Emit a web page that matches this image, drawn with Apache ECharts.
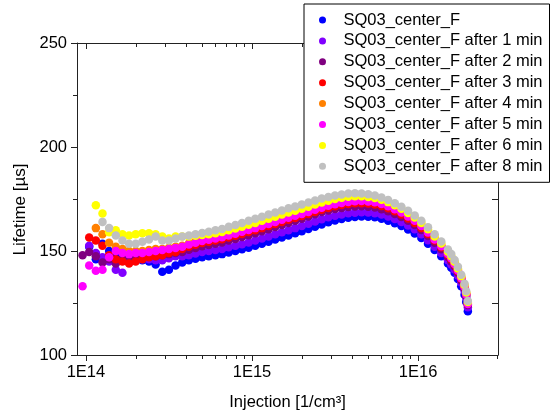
<!DOCTYPE html>
<html><head><meta charset="utf-8">
<script src="https://cdn.jsdelivr.net/npm/echarts@6/dist/echarts.min.js"></script>
<style>html,body{margin:0;padding:0;background:#fff}#c{width:551px;height:416px}</style>
</head><body><div id="c"></div>
<script>
// Injection level [1/cm^3] (shared x grid)
const injection = [9.55e13, 1.047e14, 1.148e14, 1.259e14, 1.380e14, 1.514e14, 1.660e14, 1.820e14, 1.995e14, 2.188e14, 2.399e14, 2.630e14, 2.884e14, 3.162e14, 3.467e14, 3.802e14,
  4.169e14, 4.571e14, 5.012e14, 5.495e14, 6.026e14, 6.607e14, 7.244e14, 7.943e14, 8.710e14, 9.550e14,
  1.047e15, 1.148e15, 1.259e15, 1.380e15, 1.514e15, 1.660e15, 1.820e15, 1.995e15, 2.188e15, 2.399e15,
  2.630e15, 2.884e15, 3.162e15, 3.467e15, 3.802e15, 4.169e15, 4.571e15, 5.012e15, 5.495e15, 6.026e15,
  6.607e15, 7.244e15, 7.943e15, 8.710e15, 9.550e15, 1.047e16, 1.148e16, 1.259e16, 1.380e16, 1.514e16,
  1.585e16, 1.660e16, 1.738e16, 1.820e16, 1.905e16, 1.950e16, 1.995e16];

const seriesNames = ['SQ03_center_F', 'SQ03_center_F after 1 min', 'SQ03_center_F after 2 min', 'SQ03_center_F after 3 min',
  'SQ03_center_F after 4 min', 'SQ03_center_F after 5 min', 'SQ03_center_F after 6 min', 'SQ03_center_F after 8 min'];

// Lifetime [µs]
const life0 = [null, 152, 146, 153.5, 150, 147, 146.5, 146, 146.5, 145.5, 145, 143.5, 140, 141, 143, 144.5,
  145.5, 146.3, 147, 147.5, 148, 148.5, 149.3, 150, 150.8, 151.6,
  152.5, 153.5, 154.5, 155.5, 156.5, 157.5, 158.5, 159.5, 160.6, 161.7,
  162.8, 163.8, 164.7, 165.4, 166, 166.4, 166.6, 166.5, 166.2, 165.5,
  164.6, 163.4, 162, 160.3, 158.4, 156.2, 153.5, 150.5, 147.5, 144,
  142, 139.5, 136.5, 133, 129, 125.5, 121];
const life1 = [null, 152.5, 149, 147, 145, 141, 139.5, 145, 146.5, 146, 146, 145.5, 145.5, 146.5, 147.5, 147.5,
  148, 148.8, 149.5, 150, 150.5, 151, 151.8, 152.5, 153.3, 154.1,
  155, 156, 157, 158, 159, 160, 161, 162, 163.1, 164.2,
  165.3, 166.2, 167, 167.6, 168.1, 168.4, 168.6, 168.5, 168.2, 167.5,
  166.6, 165.4, 164, 162.3, 160.4, 158.1, 155.2, 152, 149, 145.5,
  143.5, 141.1, 138.2, 134.8, 130.9, 127.5, 123];
const life2 = [148, 149.5, 147.5, 144.5, 146, 144, 146, 146.5, 147, 147, 147.5, 147.5, 148, 148.5, 149, 149.5,
  150.6, 151.5, 152.3, 152.9, 153.5, 154.1, 155, 155.8, 156.7, 157.6,
  158.5, 159.5, 160.5, 161.5, 162.5, 163.5, 164.5, 165.5, 166.6, 167.7,
  168.7, 169.5, 170.2, 170.7, 171.1, 171.4, 171.5, 171.3, 170.9, 170.1,
  169.1, 167.8, 166.3, 164.5, 162.5, 160.1, 157.2, 154, 150.8, 147.1,
  145, 142.5, 139.5, 136, 132, 128.5, 124];
const life3 = [null, 156.5, 155, 152.5, 148, 146, 145, 144, 145, 146, 147, 147.5, 148, 149, 149.5, 151,
  152.1, 153, 153.8, 154.4, 155, 155.6, 156.5, 157.3, 158.2, 159.1,
  160, 161, 162, 163, 164, 165, 165.9, 166.8, 167.8, 168.8,
  169.8, 170.7, 171.5, 172.1, 172.6, 172.9, 173, 172.8, 172.4, 171.6,
  170.5, 169.1, 167.5, 165.6, 163.5, 161.1, 158.2, 155, 151.8, 148.1,
  146, 143.4, 140.3, 136.7, 132.6, 129.1, 124.5];
const life4 = [null, null, 161, 158, 154, 152, 151, 150, 150, 150, 150.5, 151, 151, 151.5, 152, 152.5,
  153.6, 154.6, 155.5, 156.2, 156.9, 157.6, 158.5, 159.3, 160.2, 161.1,
  162, 163, 164, 165, 166, 167, 167.9, 168.8, 169.8, 170.8,
  171.8, 172.7, 173.5, 174.1, 174.6, 174.8, 174.8, 174.5, 174, 173.1,
  172, 170.6, 169, 167.1, 165, 162.5, 159.4, 156, 152.8, 149.1,
  147, 144.3, 141.1, 137.4, 133.2, 129.6, 125];
const life5 = [133, 143, 140.5, 141, 147, 150, 149, 148.5, 149, 149, 149.5, 150, 150.5, 151, 151.5, 152,
  153.1, 154, 154.8, 155.4, 156, 156.6, 157.5, 158.3, 159.2, 160.1,
  161, 162, 163, 164, 165, 166, 166.9, 167.8, 168.8, 169.8,
  170.8, 171.7, 172.5, 173.1, 173.6, 173.9, 174, 173.8, 173.4, 172.6,
  171.5, 170.1, 168.5, 166.6, 164.5, 162, 158.9, 155.5, 152.3, 148.6,
  146.5, 143.8, 140.6, 136.9, 132.7, 129.1, 124.5];
const life6 = [null, null, 172, 168, 159, 160, 158, 157.5, 158, 158.5, 158.5, 158, 157, 156, 157, 157,
  157, 157.3, 157.7, 158, 158.5, 159.1, 160, 160.8, 161.7, 162.6,
  163.5, 164.5, 165.5, 166.5, 167.5, 168.5, 169.4, 170.3, 171.3, 172.3,
  173.3, 174.2, 175, 175.6, 176.1, 176.3, 176.3, 176, 175.5, 174.6,
  173.5, 172, 170.3, 168.3, 166.1, 163.5, 160.4, 157, 153.6, 149.7,
  147.5, 144.8, 141.6, 137.9, 133.7, 130.1, 125.5];
const life8 = [null, null, null, 164, 161, 157.5, 155, 153.5, 153.5, 154.5, 155.5, 157, 155, 155, 156, 157,
  157.5, 158, 158.7, 159.3, 160, 160.6, 161.6, 162.5, 163.5, 164.5,
  165.5, 166.5, 167.5, 168.5, 169.5, 170.5, 171.4, 172.3, 173.3, 174.3,
  175.2, 176, 176.7, 177.2, 177.6, 177.8, 177.7, 177.3, 176.7, 175.7,
  174.5, 173, 171.3, 169.3, 167.1, 164.5, 161.4, 158, 154.6, 150.7,
  148.5, 145.7, 142.4, 138.6, 134.3, 130.7, 126];

const xMajorTicks = [1e14, 1e15, 1e16];
const xMinorTicks = [2e14, 3e14, 4e14, 5e14, 6e14, 7e14, 8e14, 9e14,
  2e15, 3e15, 4e15, 5e15, 6e15, 7e15, 8e15, 9e15, 2e16, 3e16];

const allLife = [life0, life1, life2, life3, life4, life5, life6, life8];
const colors = ['#0000ff', '#8000ff', '#800080', '#ff0000', '#ff8000', '#ff00ff', '#ffff00', '#c0c0c0'];

const FONT = 'Liberation Sans';
const chart = echarts.init(document.getElementById('c'), null, {renderer: 'canvas'});

const scatterSeries = allLife.map((arr, k) => ({
  name: seriesNames[k],
  type: 'scatter',
  symbol: 'circle',
  symbolSize: 8.5,
  itemStyle: {color: colors[k], opacity: 1},
  emphasis: {disabled: true},
  data: injection.map((x, i) => [x, arr[i]]).filter(p => p[1] !== null)
}));

const tickData = xMajorTicks.map(v => [v, 1]).concat(xMinorTicks.map(v => [v, 0]));

const tickSeries = {
  type: 'custom',
  name: 'ticks',
  silent: true,
  clip: false,
  z: 5,
  encode: {x: 0},
  data: tickData,
  renderItem: function (params, api) {
    const v = api.value(0);
    const major = api.value(1) === 1;
    const pb = api.coord([v, 100]);
    const pt = api.coord([v, 250]);
    const x = Math.round(pb[0]) + 0.5;
    const len = major ? 6 : 4;
    return {
      type: 'group',
      children: [
        {type: 'line', shape: {x1: x, y1: pb[1], x2: x, y2: pb[1] + len}, style: {stroke: '#222', lineWidth: 1}},
        {type: 'line', shape: {x1: x, y1: pt[1], x2: x, y2: pt[1] + len}, style: {stroke: '#222', lineWidth: 1}}
      ]
    };
  }
};

function xFmt(v) {
  const l = Math.log10(v);
  const e = Math.round(l);
  return Math.abs(l - e) < 1e-6 ? '1E' + e : '';
}

const axisLine = {show: true, onZero: false, lineStyle: {color: '#222', width: 1}};

chart.setOption({
  animation: false,
  backgroundColor: '#fff',
  grid: {left: 77, top: 43, width: 421, height: 312, containLabel: false},
  legend: {
    data: seriesNames,
    orient: 'vertical',
    left: 304, top: 4,
    zlevel: 2, z: 100,
    padding: [6, 7, 6, 15],
    backgroundColor: '#fff',
    borderColor: '#000', borderWidth: 1, borderRadius: 0,
    itemWidth: 30, itemHeight: 7, itemGap: 0.9,
    icon: 'circle',
    selectedMode: false,
    textStyle: {fontFamily: FONT, fontSize: 16.5, color: '#000', lineHeight: 20, padding: [0, 0, 0, 1]}
  },
  xAxis: [{
    type: 'log', logBase: 10, min: 8.84e13, max: 3.03e16,
    position: 'bottom',
    axisLine: axisLine,
    axisTick: {show: false},
    minorTick: {show: false},
    splitLine: {show: false},
    axisLabel: {formatter: xFmt, fontFamily: FONT, fontSize: 16.5, color: '#000', margin: 9, showMinLabel: false, showMaxLabel: false},
    name: 'Injection [1/cm³]',
    nameLocation: 'middle', nameGap: 39,
    nameTextStyle: {fontFamily: FONT, fontSize: 16.5, color: '#000'}
  }, {
    type: 'log', logBase: 10, min: 8.84e13, max: 3.03e16,
    position: 'top',
    axisLine: axisLine,
    axisTick: {show: false},
    splitLine: {show: false},
    axisLabel: {show: false}
  }],
  yAxis: [{
    type: 'value', min: 100, max: 250, interval: 50,
    position: 'left',
    axisLine: axisLine,
    axisTick: {show: true, inside: false, length: 6, lineStyle: {color: '#222'}},
    minorTick: {show: true, splitNumber: 2, length: 4, lineStyle: {color: '#222'}},
    splitLine: {show: false},
    axisLabel: {fontFamily: FONT, fontSize: 16.5, color: '#000', margin: 10},
    name: 'Lifetime [µs]',
    nameLocation: 'middle', nameGap: 41,
    nameTextStyle: {fontFamily: FONT, fontSize: 17, color: '#000', padding: [0, 21, 0, 0]}
  }, {
    type: 'value', min: 100, max: 250, interval: 25,
    position: 'right',
    axisLine: axisLine,
    axisTick: {show: true, inside: true, length: 6, lineStyle: {color: '#222'}},
    splitLine: {show: false},
    axisLabel: {show: false}
  }],
  series: scatterSeries.concat([tickSeries])
});
</script>
</body></html>
